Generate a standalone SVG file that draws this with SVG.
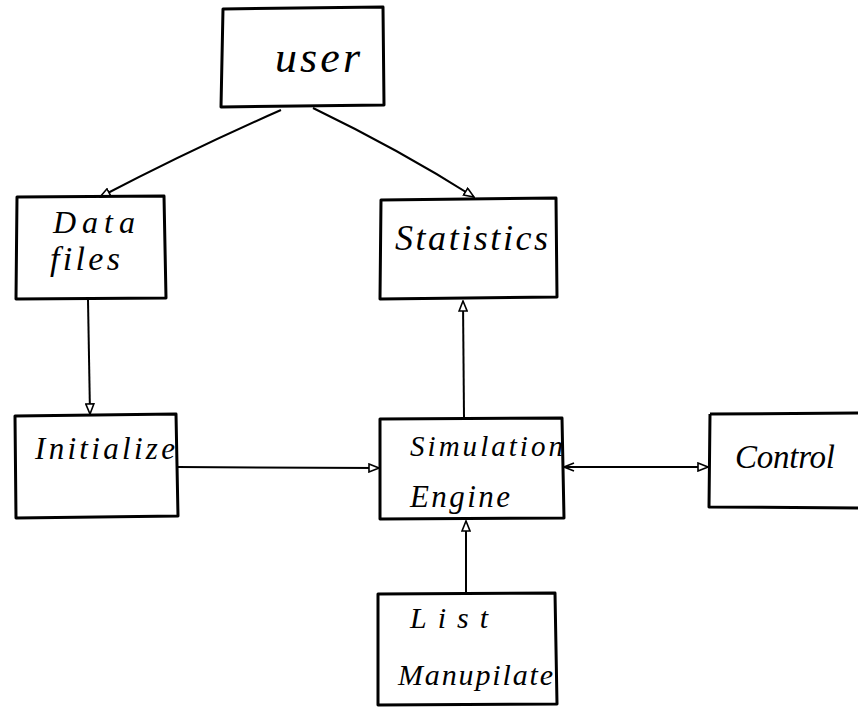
<svg xmlns="http://www.w3.org/2000/svg" width="858" height="707" viewBox="0 0 858 707">
<style>
.box{fill:none;stroke:#000;stroke-width:3;stroke-linejoin:round}
.ln{fill:none;stroke:#000;stroke-width:2}
.t{font-family:"Liberation Serif",serif;font-style:italic;fill:#000}
</style>
<defs>
<marker id="ah" viewBox="0 0 12 10" refX="11" refY="5" markerWidth="12" markerHeight="10" markerUnits="userSpaceOnUse" orient="auto">
<path d="M1,1 L11,5 L1,9 Z" fill="#fff" stroke="#000" stroke-width="1.6"/>
</marker>
<marker id="as" viewBox="0 0 12 10" refX="1" refY="5" markerWidth="12" markerHeight="10" markerUnits="userSpaceOnUse" orient="auto">
<path d="M11,1 L1,5 L11,9" fill="none" stroke="#000" stroke-width="1.6"/>
</marker>
</defs>
<rect width="858" height="707" fill="#fff"/>
<g id="connectors">
<path class="ln" d="M281,110 Q190,150 100,197" marker-end="url(#ah)"/>
<path class="ln" d="M313,108 Q400,150 474,197" marker-end="url(#ah)"/>
<path class="ln" d="M88,300 L90,414" marker-end="url(#ah)"/>
<path class="ln" d="M177,467 L379,468" marker-end="url(#ah)"/>
<path class="ln" d="M464,418 L463,301" marker-end="url(#ah)"/>
<path class="ln" d="M564,467 L708,467" marker-start="url(#as)" marker-end="url(#ah)"/>
<path class="ln" d="M466,594 L466,521" marker-end="url(#ah)"/>
</g>
<g id="user">
<path class="box" d="M223,9 L383,7 L384,105 L221,107 Z"/>
<text class="t" x="275" y="72" style="font-size:44px" textLength="85" lengthAdjust="spacing">user</text>
</g>
<g id="datafiles">
<path class="box" d="M17,197 L164,196 L166,298 L16,299 Z"/>
<text class="t" x="53" y="233" style="font-size:32px" textLength="82" lengthAdjust="spacing">Data</text>
<text class="t" x="50" y="270" style="font-size:34px" textLength="70" lengthAdjust="spacing">files</text>
</g>
<g id="statistics">
<path class="box" d="M381,200 L556,198 L557,297 L380,299 Z"/>
<text class="t" x="395" y="250" style="font-size:36px" textLength="153" lengthAdjust="spacing">Statistics</text>
</g>
<g id="initialize">
<path class="box" d="M15,416 L176,414 L178,516 L16,518 Z"/>
<text class="t" x="35" y="459" style="font-size:31px" textLength="140" lengthAdjust="spacing">Initialize</text>
</g>
<g id="engine">
<path class="box" d="M380,419 L562,418 L564,518 L380,519 Z"/>
<text class="t" x="410" y="456" style="font-size:29px" textLength="153" lengthAdjust="spacing">Simulation</text>
<text class="t" x="410" y="507" style="font-size:31px" textLength="100" lengthAdjust="spacing">Engine</text>
</g>
<g id="control">
<path class="box" d="M710,414 L858,413 M710,414 L709,507 L858,508"/>
<text class="t" x="735" y="468" style="font-size:33px" textLength="100" lengthAdjust="spacing">Control</text>
</g>
<g id="list">
<path class="box" d="M378,594 L555,593 L557,704 L378,705 Z"/>
<text class="t" x="410" y="628" style="font-size:30px" textLength="78" lengthAdjust="spacing">List</text>
<text class="t" x="398" y="685" style="font-size:30px" textLength="155" lengthAdjust="spacing">Manupilate</text>
</g>
</svg>
